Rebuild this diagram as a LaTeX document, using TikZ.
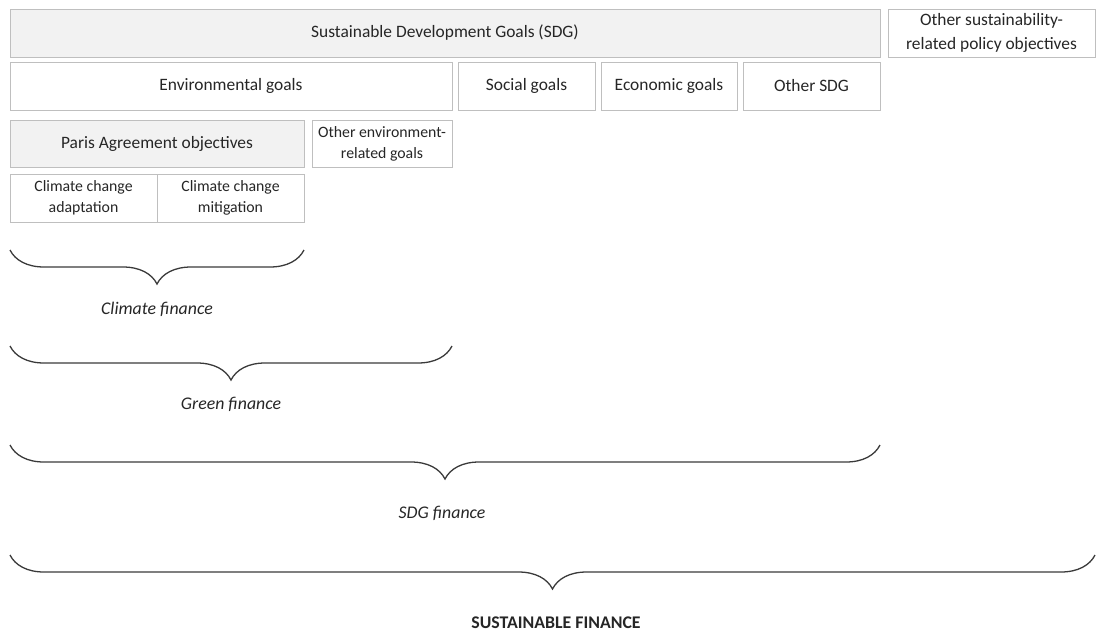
\documentclass[tikz,border=0pt]{standalone}
\usepackage{fontspec}
\setmainfont{Carlito}
\usetikzlibrary{decorations.pathreplacing}
\definecolor{boxgrey}{HTML}{F2F2F2}
\definecolor{edgegrey}{HTML}{BFBFBF}
\definecolor{bracegrey}{HTML}{3A3A3A}

\begin{document}
\begin{tikzpicture}[x = 0.5pt, y = -0.5pt,
    goal/.style = {draw = edgegrey, line width = 0.5pt, fill = white, inner sep = 1pt, align = center, text = black!85, font = \fontsize{8.7}{12}\selectfont},
    small/.style = {goal, font = \fontsize{7.9}{10.5}\selectfont},
    paris/.style = {goal, fill = boxgrey},
    brc/.style = {draw = bracegrey, line width = 0.65pt, decorate, decoration = {brace, mirror, amplitude = 17pt}},
    fin/.style = {text = black!85, font = \fontsize{8.9}{10.5}\selectfont\itshape}]
    \useasboundingbox (0,0) rectangle (1096,632);
    % first row
    \node[paris, minimum width = 435pt, minimum height = 24pt] (SDG) at (445,33) {Sustainable Development Goals (SDG)};
    \node[goal, minimum width = 103.5pt, minimum height = 24pt] (OSP) at (991.5,33) {Other sustainability-\\related policy objectives};
    % second row
    \node[goal, minimum width = 221pt, minimum height = 24pt] (ENV) at (231,86) {Environmental goals};
    \node[goal, minimum width = 68.5pt, minimum height = 24pt] (SOC) at (526.5,86) {Social goals};
    \node[goal, minimum width = 68pt, minimum height = 24pt] (ECO) at (669,86) {Economic goals};
    \node[goal, minimum width = 68.5pt, minimum height = 24pt] (OSDG) at (811.5,86) {Other SDG};
    % third row
    \node[paris, minimum width = 147pt, minimum height = 23.5pt] (PAO) at (157,143.5) {Paris Agreement objectives};
    \node[small, minimum width = 70pt, minimum height = 23.5pt] (OEG) at (382,143.5) {Other environment-\\related goals};
    \node[small, minimum width = 73.5pt, minimum height = 24pt] (CCA) at (83.5,198) {Climate change\\adaptation};
    \node[small, minimum width = 73.5pt, minimum height = 24pt] (CCM) at (230.5,198) {Climate change\\mitigation};
    % braces
    \coordinate (cfL) at (10,250);
    \coordinate (cfR) at (304,250);
    \coordinate (gfL) at (10,346);
    \coordinate (gfR) at (452,346);
    \coordinate (sdL) at (10,445);
    \coordinate (sdR) at (880,445);
    \coordinate (sfL) at (10,555);
    \coordinate (sfR) at (1095,555);
    \draw[brc] (cfL) -- (cfR);
    \draw[brc] (gfL) -- (gfR);
    \draw[brc] (sdL) -- (sdR);
    \draw[brc] (sfL) -- (sfR);
    \node[fin] (CF) at (157,309) {Climate finance};
    \node[fin] (GF) at (231,404) {Green finance};
    \node[fin] (SF) at (442,513) {SDG finance};
    \node[text = black!85, font = \fontsize{8.9}{10.5}\selectfont\bfseries] (SUS) at (556,623) {SUSTAINABLE FINANCE};
\end{tikzpicture}
\end{document}
